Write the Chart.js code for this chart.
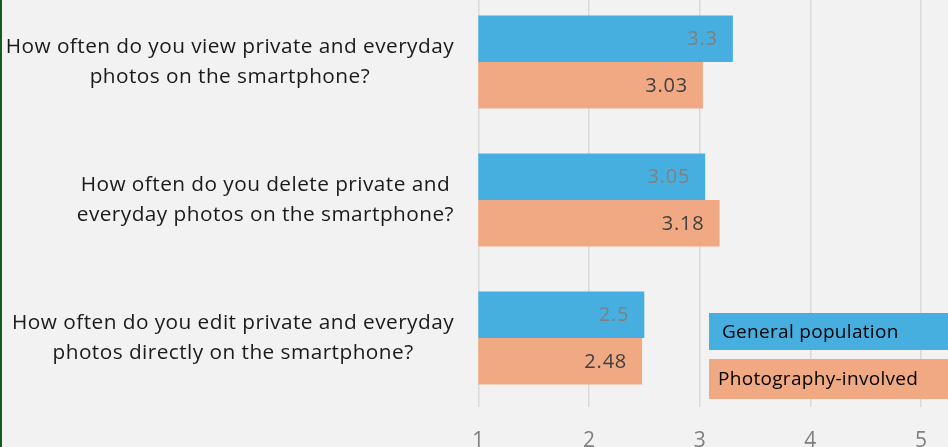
<!DOCTYPE html>
<html>
<head>
<meta charset="utf-8">
<script src="https://cdn.jsdelivr.net/npm/chart.js@4.4.1/dist/chart.umd.min.js"></script>
<style>
  html, body { margin: 0; padding: 0; background: #f2f2f2; overflow: hidden; width: 948px; height: 447px; }
  #wrap { position: absolute; left: 0; top: -7px; width: 948px; height: 464px; }
  #edge { position: absolute; left: 0; top: 0; width: 2px; height: 447px; background: #185a26; }
</style>
</head>
<body>
<div id="wrap"><canvas id="chart"></canvas></div>
<div id="edge"></div>
<script>
// --- dados ---
const categories = [
    ['How often do you view private and everyday', 'photos on the smartphone?'],
    ['How often do you delete private and', 'everyday photos on the smartphone?'],
    ['How often do you edit private and everyday', 'photos directly on the smartphone?']
];
const seriesNames = ['General population', 'Photography-involved'];
const generalPopulation = [3.3, 3.05, 2.5];
const photographyInvolved = [3.03, 3.18, 2.48];
const xTicks = [1, 2, 3, 4, 5];

const colors = {
    blue: '#46afe0',
    salmon: '#f1a983',
    grid: '#d9d9d9',
    tick: '#808080'
};

const FONT = '"Open Sans", sans-serif';

// rótulos das perguntas: bloco alinhado à direita, linhas centradas entre si
const questionLabels = {
    id: 'questionLabels',
    afterDraw(chart) {
        const ctx = chart.ctx;
        const yScale = chart.scales.y;
        ctx.save();
        ctx.font = '20.8px ' + FONT;
        ctx.letterSpacing = '0.45px';
        ctx.fillStyle = '#1a1a1a';
        ctx.textAlign = 'center';
        ctx.textBaseline = 'middle';
        const rightEdge = 454;
        const lineH = 30;
        categories.forEach((lines, i) => {
            const cy = yScale.getPixelForValue(i);
            const w = Math.max(...lines.map(l => ctx.measureText(l).width));
            const cx = rightEdge - w / 2;
            lines.forEach((l, k) => {
                ctx.fillText(l, cx, cy + (k - (lines.length - 1) / 2) * lineH);
            });
        });
        ctx.restore();
    }
};

// valores dentro da ponta das barras
const valueLabels = {
    id: 'valueLabels',
    afterDatasetsDraw(chart) {
        const ctx = chart.ctx;
        ctx.save();
        ctx.font = '20px ' + FONT;
        ctx.letterSpacing = '0.8px';
        ctx.textAlign = 'right';
        ctx.textBaseline = 'middle';
        chart.data.datasets.forEach((ds, i) => {
            ctx.fillStyle = i === 0 ? '#808080' : '#404040';
            chart.getDatasetMeta(i).data.forEach((bar, j) => {
                ctx.fillText(String(ds.data[j]), bar.x - 15, bar.y + 1);
            });
        });
        ctx.restore();
    }
};

// legenda em caixas coloridas no canto inferior direito
const boxLegend = {
    id: 'boxLegend',
    afterDraw(chart) {
        const ctx = chart.ctx;
        const boxes = [
            { top: 320, h: 37, textX: 722 },
            { top: 366, h: 40, textX: 718 }
        ];
        ctx.save();
        ctx.font = '19px ' + FONT;
        ctx.letterSpacing = '0.3px';
        ctx.textAlign = 'left';
        ctx.textBaseline = 'middle';
        chart.data.datasets.forEach((ds, i) => {
            const b = boxes[i];
            ctx.fillStyle = ds.backgroundColor;
            ctx.fillRect(709, b.top, chart.width - 709, b.h);
            ctx.fillStyle = '#000';
            ctx.fillText(ds.label, b.textX, b.top + b.h / 2 + 1);
        });
        ctx.restore();
    }
};

new Chart(document.getElementById('chart'), {
    type: 'bar',
    data: {
        labels: categories,
        datasets: [
            {
                label: seriesNames[0],
                data: generalPopulation,
                backgroundColor: colors.blue,
                categoryPercentage: 0.674,
                barPercentage: 1.0
            },
            {
                label: seriesNames[1],
                data: photographyInvolved,
                backgroundColor: colors.salmon,
                categoryPercentage: 0.674,
                barPercentage: 1.0
            }
        ]
    },
    options: {
        indexAxis: 'y',
        responsive: true,
        maintainAspectRatio: false,
        animation: false,
        layout: { padding: { left: 478.3, right: 24.9, top: 0, bottom: 0 } },
        plugins: {
            legend: { display: false },
            tooltip: { enabled: false }
        },
        scales: {
            x: {
                min: xTicks[0],
                max: xTicks[xTicks.length - 1],
                afterBuildTicks: scale => { scale.ticks = xTicks.map(v => ({ value: v })); },
                afterFit: scale => { scale.height = 50; },
                border: { display: false },
                grid: { color: colors.grid, lineWidth: 1.5, drawTicks: false },
                ticks: { color: colors.tick, font: { family: FONT, size: 21 }, padding: 21 }
            },
            y: {
                display: false
            }
        }
    },
    plugins: [questionLabels, valueLabels, boxLegend]
});
</script>
</body>
</html>
